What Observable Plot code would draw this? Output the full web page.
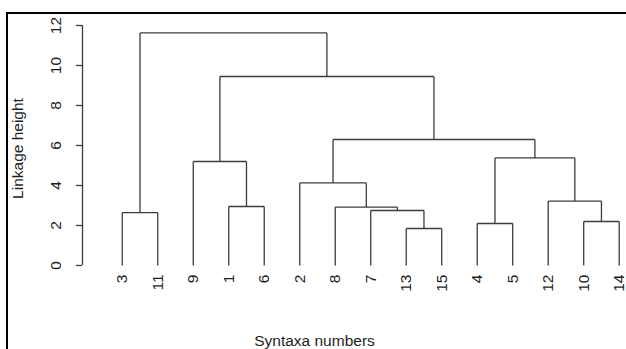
<!DOCTYPE html>
<html><head><meta charset="utf-8">
<script src="https://cdn.jsdelivr.net/npm/d3@7"></script>
<script src="https://cdn.jsdelivr.net/npm/@observablehq/plot@0.6"></script>
<style>
html,body{margin:0;padding:0;background:#fff;}
#wrap{position:relative;width:626px;height:349px;overflow:hidden;background:#fff;}
#wrap svg{position:absolute;left:0;top:0;}
#border{position:absolute;left:6px;top:12px;width:700px;height:400px;border-left:2px solid #000;border-top:2px solid #000;pointer-events:none;}
</style></head><body><div id="wrap"></div>
<script>
// Leaf order along the x axis (syntaxa numbers)
const leafOrder = [3, 11, 9, 1, 6, 2, 8, 7, 13, 15, 4, 5, 12, 10, 14];
// hclust-style merge table: negative = leaf (syntaxon number), positive = earlier merge (1-based)
const mergeLeft   = [-13, -4, -10, -3, -7, -8, -1, -12, -2, -9, 2, 9, 10, 4];
const mergeRight  = [-15, -5, -14, -11, 1, 5, -6, 3, 6, 7, 8, 11, 12, 13];
const mergeHeight = [1.85, 2.10, 2.20, 2.64, 2.75, 2.92, 2.95, 3.22, 4.13, 5.20, 5.38, 6.30, 9.45, 11.63];
const yTicks = [0, 2, 4, 6, 8, 10, 12];
const xLabel = "Syntaxa numbers";
const yLabel = "Linkage height";

// Build the dendrogram segments from the merge table
const leafPos = new Map(leafOrder.map((s, i) => [s, i + 1]));
const nodeX = [], nodeH = [];
const childX = (c) => c < 0 ? leafPos.get(-c) : nodeX[c - 1];
const childH = (c) => c < 0 ? 0 : nodeH[c - 1];
const segments = [];
mergeHeight.forEach((h, i) => {
  const a = mergeLeft[i], b = mergeRight[i];
  const xa = childX(a), xb = childX(b);
  segments.push({x1: xa, y1: h, x2: xb, y2: h});
  segments.push({x1: xa, y1: h, x2: xa, y2: childH(a)});
  segments.push({x1: xb, y1: h, x2: xb, y2: childH(b)});
  nodeX.push((xa + xb) / 2);
  nodeH.push(h);
});
const leaves = leafOrder.map((s, i) => ({pos: i + 1, label: String(s)}));

const font = "Liberation Sans, Arial, Helvetica, sans-serif";
const ink = "#1e1e1e";
const line = "#3c3c3c";
const fs = 15.5;
// x scale: the y axis sits at the left end of the x domain
const xDomain = [-0.12, 15];

const chart = Plot.plot({
  width: 626,
  height: 349,
  marginLeft: 82,
  marginRight: 0,
  marginTop: 25,
  marginBottom: 84,
  style: {fontFamily: font, fontSize: fs + "px", color: ink, background: "transparent"},
  x: {domain: xDomain, range: [82, 618.7], axis: null},
  y: {domain: [0, 12], axis: null},
  marks: [
    Plot.ruleX([xDomain[0]], {y1: yTicks[0], y2: yTicks[yTicks.length - 1], stroke: line, strokeWidth: 1.3}),
    Plot.axisY({ticks: yTicks, tickSize: 6, tickFormat: () => "", label: null, stroke: line, strokeWidth: 1.3}),
    Plot.text(yTicks, {y: d => d, text: d => String(d), frameAnchor: "left", textAnchor: "middle", dx: -26, rotate: -90, fill: ink, fontSize: fs}),
    Plot.link(segments, {x1: "x1", y1: "y1", x2: "x2", y2: "y2", stroke: line, strokeWidth: 1.3}),
    Plot.text(leaves, {x: "pos", y: () => 0, text: "label", rotate: -90, textAnchor: "end", dy: 9, fill: ink, fontSize: fs}),
    Plot.text([xLabel], {frameAnchor: "bottom", textAnchor: "middle", lineAnchor: "middle", dx: -40, dy: 76, fill: ink, fontSize: fs}),
    Plot.text([yLabel], {frameAnchor: "left", textAnchor: "middle", rotate: -90, dx: -64, dy: 3, fill: ink, fontSize: fs})
  ]
});
const wrap = document.getElementById("wrap");
wrap.appendChild(chart);
const border = document.createElement("div");
border.id = "border";
wrap.appendChild(border);
</script>
</body></html>
